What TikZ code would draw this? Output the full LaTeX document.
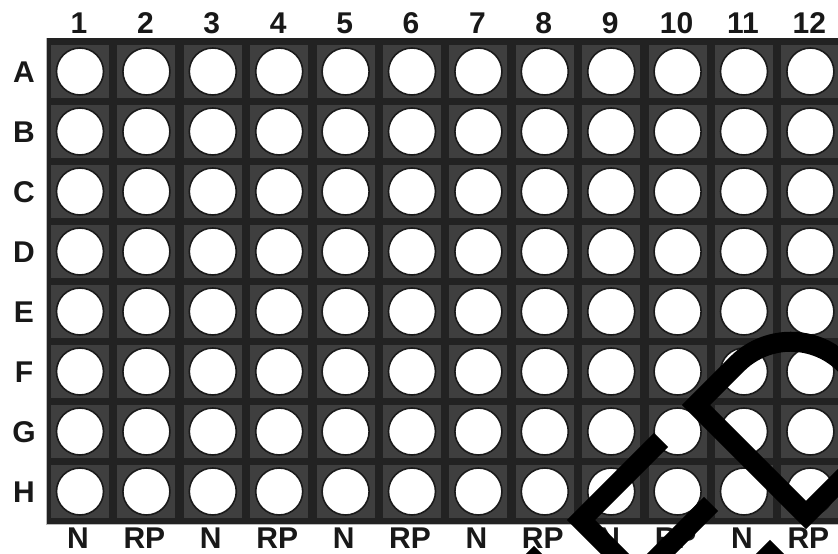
\documentclass[tikz,border=0pt]{standalone}
\usepackage{fontspec}
\setmainfont{Liberation Sans}
\usetikzlibrary{positioning}
\definecolor{plate}{RGB}{34,34,34}
\definecolor{cellgrey}{RGB}{63,63,63}
\definecolor{rim}{RGB}{26,26,26}
\definecolor{ink}{RGB}{24,24,24}

\begin{document}
\begin{tikzpicture}[x=1pt, y=1pt,
  lbl/.style={font=\fontsize{30}{32}\selectfont\bfseries, text=ink, inner sep=0pt,
              text height=21.5pt, text depth=0pt},
  cell/.style={rectangle, fill=cellgrey, minimum width=58pt, minimum height=53pt, inner sep=0pt},
  well/.style={circle, fill=white, draw=rim, line width=1.6pt, minimum size=47pt, inner sep=0pt},
  scrawl/.style={line width=20pt, black, line join=miter, line cap=butt}]

  \useasboundingbox (0,0) rectangle (838,554);
  \clip (0,0) rectangle (838,554);

  % plate
  \fill[plate] (46,30) rectangle (846,516);
  \draw[gray!55, line width=0.8pt] (46,516) -- (46,30) -- (846,30);

  % rows of wells
  \foreach \r [count=\i] in {A,B,C,D,E,F,G,H} {
    \node[lbl] (row\r) at (24, {542.5-60*\i}) {\r};
    \foreach \c in {1,...,12} {
      \node[cell] (cell-\r\c) at ({80+66.4*(\c-1)}, {542.5-60*\i}) {};
      \node[well] (well-\r\c) at (cell-\r\c) {};
    }
  }

  % column numbers and sample types
  \foreach \c in {1,...,12}
    \node[lbl] (col\c) at ({79+66.4*(\c-1)}, 531.5) {\c};
  \foreach \c/\t in {1/N,2/RP,3/N,4/RP,5/N,6/RP,7/N,8/RP,9/N,10/RP,11/N,12/RP}
    \node[lbl] (type\c) at ({78+66.4*(\c-1)}, 16) {\t};

  % black strokes over the corner
  \draw[scrawl] (661,114) -- (581,34) -- (640,-25);
  \draw[scrawl] (510,-30) -- (541,1);
  \draw[scrawl] (640,-21) -- (711,50);
  \draw[scrawl] (740,-30) -- (770,0) -- (800,-30);
  \draw[scrawl] (850,83) -- (806,39) -- (696,149) -- (737,190)
    arc[start angle=135, end angle=35, radius=76pt];
\end{tikzpicture}
\end{document}
